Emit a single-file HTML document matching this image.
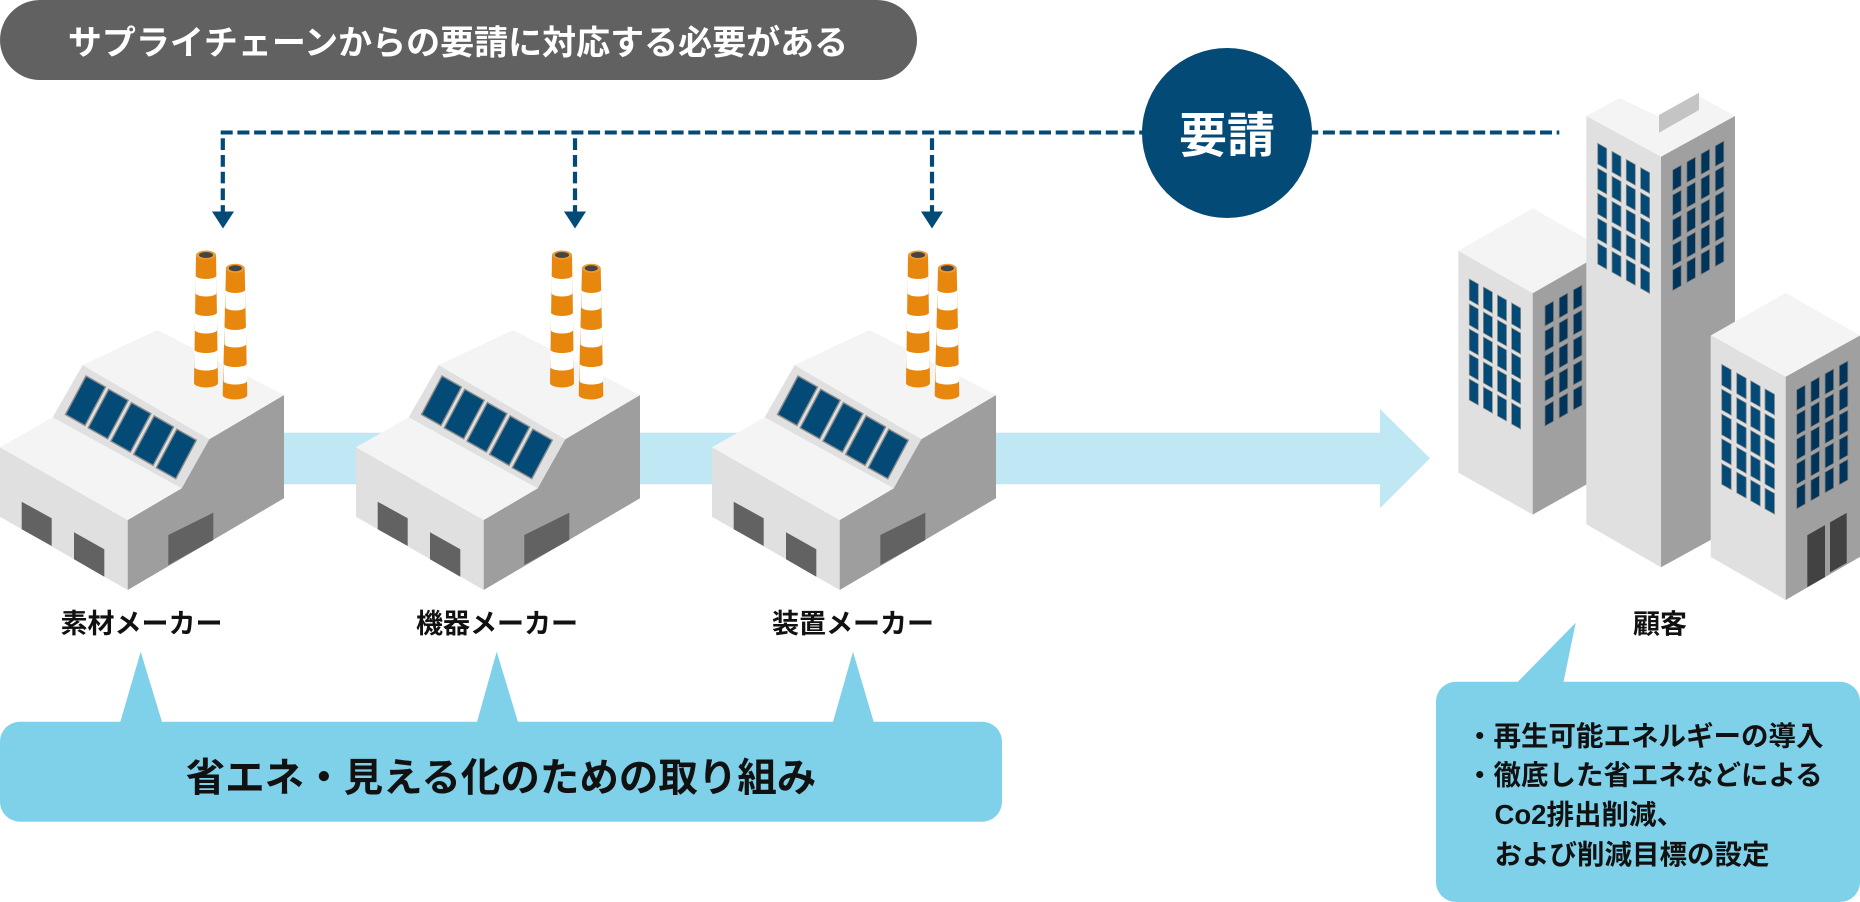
<!DOCTYPE html>
<html><head><meta charset="utf-8">
<style>
html,body{margin:0;padding:0;background:#fff;width:1860px;height:902px;overflow:hidden}
svg{display:block}
text{font-family:"Liberation Sans","Noto Sans CJK JP",sans-serif;font-weight:700}
</style></head>
<body>
<svg width="1860" height="902" viewBox="0 0 1860 902" xmlns="http://www.w3.org/2000/svg">
<rect width="1860" height="902" fill="#fff"/>

<!-- header pill -->
<rect x="0" y="0" width="917" height="80" rx="40" fill="#616161"/>
<text x="458" y="54.5" font-size="34" fill="#fff" text-anchor="middle">サプライチェーンからの要請に対応する必要がある</text>

<!-- dashed request lines -->
<line x1="220.7" y1="132.5" x2="1559.3" y2="132.5" stroke="#034a77" stroke-width="4" stroke-dasharray="12 4.7"/>
<g stroke="#034a77" stroke-width="4.2" stroke-dasharray="11.7 5">
<line x1="222.8" y1="138.3" x2="222.8" y2="212"/>
<line x1="575" y1="138.3" x2="575" y2="212"/>
<line x1="932" y1="138.3" x2="932" y2="212"/>
</g>
<g fill="#034a77">
<polygon points="212,211.5 234,211.5 223,228.5"/>
<polygon points="564,211.5 586,211.5 575,228.5"/>
<polygon points="921,211.5 943,211.5 932,228.5"/>
</g>
<circle cx="1227" cy="133" r="85" fill="#034a77"/>
<text x="1227" y="152" font-size="48" fill="#fff" text-anchor="middle">要請</text>

<!-- light blue flow arrow -->
<polygon points="150,432.7 1380,432.7 1380,409 1430,458.3 1380,508.3 1380,484.3 150,484.3" fill="#bfe8f4"/>

<!-- factory -->
<g id="fac">
<polygon points="0,447.3 127.7,520 127.7,590 0,516.7" fill="#e0e0e0"/>
<polygon points="127.7,520 181.7,488.3 209.3,439.3 284,395 284,498.3 127.7,590" fill="#9e9e9e"/>
<polygon points="0,447.3 52.7,417.3 181.7,488.3 127.7,520" fill="#f4f4f4"/>
<polygon points="52.7,417.3 82.7,365 209.3,439.3 181.7,488.3" fill="#e0e0e0"/>
<polygon points="82.7,365 157.3,330 284,395 209.3,439.3" fill="#f4f4f4"/>
<g fill="#034a77" stroke="#8c8c8c" stroke-width="1.4">
<polygon points="86,376 105.5,387 85,425.5 65.5,414.5"/>
<polygon points="108.7,389.3 128.2,400.3 107.7,438.8 88.2,427.8"/>
<polygon points="131.4,402.6 150.9,413.6 130.4,452.1 110.9,441.1"/>
<polygon points="154.1,415.9 173.6,426.9 153.1,465.4 133.6,454.4"/>
<polygon points="176.8,429.2 196.3,440.2 175.8,478.7 156.3,467.7"/>
</g>
<g fill="#626262">
<polygon points="21.7,501.7 51.7,518.3 51.7,546 21.7,529.3"/>
<polygon points="74,532.3 104.3,549.3 104.3,576.7 74,559.3"/>
<polygon points="168.3,535 213.3,512.7 213.3,540 168.3,565"/>
</g>
<!-- chimney 1 -->
<path d="M196,255 L194,383 A12,4.5 0 0 0 218,383 L216,255 Z" fill="#e8870e"/>
<g fill="#fff">
<path d="M195.6,275.5 A10.4,3.5 0 0 0 216.4,275.5 L216.4,293 A10.4,3.5 0 0 1 195.6,293 Z"/>
<path d="M195,312.5 A11,3.5 0 0 0 217,312.5 L217,330 A11,3.5 0 0 1 195,330 Z"/>
<path d="M194.4,349.5 A11.6,3.5 0 0 0 217.6,349.5 L217.6,367 A11.6,3.5 0 0 1 194.4,367 Z"/>
</g>
<ellipse cx="206" cy="255" rx="10" ry="4.5" fill="#ee9a30"/>
<ellipse cx="206" cy="255" rx="7" ry="3" fill="#444"/>
<!-- chimney 2 -->
<path d="M226,268.3 L222.7,395 A12.3,4.5 0 0 0 247.3,395 L244.7,268.3 Z" fill="#e8870e"/>
<g fill="#fff">
<path d="M225.4,289.5 A9.95,3.5 0 0 0 245.3,289.5 L245.3,307 A9.95,3.5 0 0 1 225.4,307 Z"/>
<path d="M224.5,326.5 A10.8,3.5 0 0 0 246.1,326.5 L246.1,344 A10.8,3.5 0 0 1 224.5,344 Z"/>
<path d="M223.6,363.5 A11.7,3.5 0 0 0 247,363.5 L247,381 A11.7,3.5 0 0 1 223.6,381 Z"/>
</g>
<ellipse cx="235.3" cy="268.3" rx="9.4" ry="4.5" fill="#ee9a30"/>
<ellipse cx="235.3" cy="268.3" rx="6.5" ry="3" fill="#444"/>
</g>
<use href="#fac" x="356" y="0"/>
<use href="#fac" x="712" y="0"/>

<!-- factory labels -->
<g font-size="27" fill="#111" text-anchor="middle">
<text x="141.5" y="633">素材メーカー</text>
<text x="497" y="633">機器メーカー</text>
<text x="853" y="633">装置メーカー</text>
<text x="1660" y="633.5">顧客</text>
</g>

<!-- buildings: B1 -->
<polygon points="1458.3,250.7 1532.7,208.3 1607,250.7 1532.7,293.3" fill="#f4f4f4"/>
<polygon points="1458.3,250.7 1532.7,293.3 1532.7,514.6 1458.3,472.6" fill="#e0e0e0"/>
<polygon points="1532.7,293.3 1607,250.7 1607,473 1532.7,514.6" fill="#a0a0a0"/>
<g transform="translate(1469.3,279) skewY(29.5)" fill="#034a77" stroke="#8a8a8a" stroke-width="0.8">
<rect x="0" y="0" width="9" height="21"/><rect x="14.1" y="0" width="9" height="21"/><rect x="28.2" y="0" width="9" height="21"/><rect x="42.3" y="0" width="9" height="21"/>
<rect x="0" y="25" width="9" height="21"/><rect x="14.1" y="25" width="9" height="21"/><rect x="28.2" y="25" width="9" height="21"/><rect x="42.3" y="25" width="9" height="21"/>
<rect x="0" y="50" width="9" height="21"/><rect x="14.1" y="50" width="9" height="21"/><rect x="28.2" y="50" width="9" height="21"/><rect x="42.3" y="50" width="9" height="21"/>
<rect x="0" y="75" width="9" height="21"/><rect x="14.1" y="75" width="9" height="21"/><rect x="28.2" y="75" width="9" height="21"/><rect x="42.3" y="75" width="9" height="21"/>
<rect x="0" y="100" width="9" height="21"/><rect x="14.1" y="100" width="9" height="21"/><rect x="28.2" y="100" width="9" height="21"/><rect x="42.3" y="100" width="9" height="21"/>
</g>
<g transform="translate(1545,306) skewY(-29.5)" fill="#00345a" stroke="#7a7a7a" stroke-width="0.8">
<rect x="0" y="0" width="8.5" height="20"/><rect x="14.2" y="0" width="8.5" height="20"/><rect x="28.4" y="0" width="8.5" height="20"/>
<rect x="0" y="25" width="8.5" height="20"/><rect x="14.2" y="25" width="8.5" height="20"/><rect x="28.4" y="25" width="8.5" height="20"/>
<rect x="0" y="50" width="8.5" height="20"/><rect x="14.2" y="50" width="8.5" height="20"/><rect x="28.4" y="50" width="8.5" height="20"/>
<rect x="0" y="75" width="8.5" height="20"/><rect x="14.2" y="75" width="8.5" height="20"/><rect x="28.4" y="75" width="8.5" height="20"/>
<rect x="0" y="100" width="8.5" height="20"/><rect x="14.2" y="100" width="8.5" height="20"/><rect x="28.4" y="100" width="8.5" height="20"/>
</g>

<!-- tower -->
<polygon points="1586.3,116 1661,75.3 1735,116 1661,156.7" fill="#f4f4f4"/>
<polygon points="1619.3,98 1661,75.3 1699,94 1659,116.7" fill="#fff"/>
<polygon points="1659,115 1699,92.7 1699,110 1659,132.7" fill="#c4c4c4"/>
<polygon points="1586.3,116 1661,156.7 1661,567.3 1586.3,524.2" fill="#e0e0e0"/>
<polygon points="1661,156.7 1735,116 1735,526.6 1661,567.3" fill="#a0a0a0"/>
<g transform="translate(1597.7,143.3) skewY(29.5)" fill="#034a77" stroke="#8a8a8a" stroke-width="0.8">
<rect x="0" y="0" width="9" height="20.7"/><rect x="14.3" y="0" width="9" height="20.7"/><rect x="28.6" y="0" width="9" height="20.7"/><rect x="42.9" y="0" width="9" height="20.7"/>
<rect x="0" y="25" width="9" height="20.7"/><rect x="14.3" y="25" width="9" height="20.7"/><rect x="28.6" y="25" width="9" height="20.7"/><rect x="42.9" y="25" width="9" height="20.7"/>
<rect x="0" y="50" width="9" height="20.7"/><rect x="14.3" y="50" width="9" height="20.7"/><rect x="28.6" y="50" width="9" height="20.7"/><rect x="42.9" y="50" width="9" height="20.7"/>
<rect x="0" y="75" width="9" height="20.7"/><rect x="14.3" y="75" width="9" height="20.7"/><rect x="28.6" y="75" width="9" height="20.7"/><rect x="42.9" y="75" width="9" height="20.7"/>
<rect x="0" y="100" width="9" height="20.7"/><rect x="14.3" y="100" width="9" height="20.7"/><rect x="28.6" y="100" width="9" height="20.7"/><rect x="42.9" y="100" width="9" height="20.7"/>
</g>
<g transform="translate(1672.7,170) skewY(-29.5)" fill="#00345a" stroke="#7a7a7a" stroke-width="0.8">
<rect x="0" y="0" width="8.5" height="20.5"/><rect x="14.2" y="0" width="8.5" height="20.5"/><rect x="28.4" y="0" width="8.5" height="20.5"/><rect x="42.6" y="0" width="8.5" height="20.5"/>
<rect x="0" y="25" width="8.5" height="20.5"/><rect x="14.2" y="25" width="8.5" height="20.5"/><rect x="28.4" y="25" width="8.5" height="20.5"/><rect x="42.6" y="25" width="8.5" height="20.5"/>
<rect x="0" y="50" width="8.5" height="20.5"/><rect x="14.2" y="50" width="8.5" height="20.5"/><rect x="28.4" y="50" width="8.5" height="20.5"/><rect x="42.6" y="50" width="8.5" height="20.5"/>
<rect x="0" y="75" width="8.5" height="20.5"/><rect x="14.2" y="75" width="8.5" height="20.5"/><rect x="28.4" y="75" width="8.5" height="20.5"/><rect x="42.6" y="75" width="8.5" height="20.5"/>
<rect x="0" y="100" width="8.5" height="20.5"/><rect x="14.2" y="100" width="8.5" height="20.5"/><rect x="28.4" y="100" width="8.5" height="20.5"/><rect x="42.6" y="100" width="8.5" height="20.5"/>
</g>

<!-- B3 -->
<polygon points="1710.7,335.5 1785.7,292.8 1860,335.5 1785.7,376.8" fill="#f4f4f4"/>
<polygon points="1710.7,335.5 1785.7,376.8 1785.7,600 1710.7,556.9" fill="#e0e0e0"/>
<polygon points="1785.7,376.8 1860,335.5 1860,556.9 1785.7,600" fill="#a0a0a0"/>
<g transform="translate(1721.7,364.4) skewY(29.5)" fill="#034a77" stroke="#8a8a8a" stroke-width="0.8">
<rect x="0" y="0" width="9.5" height="20.7"/><rect x="15" y="0" width="9.5" height="20.7"/><rect x="29" y="0" width="9.5" height="20.7"/><rect x="43.3" y="0" width="9.5" height="20.7"/>
<rect x="0" y="24.8" width="9.5" height="20.7"/><rect x="15" y="24.8" width="9.5" height="20.7"/><rect x="29" y="24.8" width="9.5" height="20.7"/><rect x="43.3" y="24.8" width="9.5" height="20.7"/>
<rect x="0" y="49.6" width="9.5" height="20.7"/><rect x="15" y="49.6" width="9.5" height="20.7"/><rect x="29" y="49.6" width="9.5" height="20.7"/><rect x="43.3" y="49.6" width="9.5" height="20.7"/>
<rect x="0" y="74.4" width="9.5" height="20.7"/><rect x="15" y="74.4" width="9.5" height="20.7"/><rect x="29" y="74.4" width="9.5" height="20.7"/><rect x="43.3" y="74.4" width="9.5" height="20.7"/>
<rect x="0" y="99.2" width="9.5" height="20.7"/><rect x="15" y="99.2" width="9.5" height="20.7"/><rect x="29" y="99.2" width="9.5" height="20.7"/><rect x="43.3" y="99.2" width="9.5" height="20.7"/>
</g>
<g transform="translate(1796.7,389.9) skewY(-29.5)" fill="#00345a" stroke="#7a7a7a" stroke-width="0.8">
<rect x="0" y="0" width="8.5" height="20.5"/><rect x="14.2" y="0" width="8.5" height="20.5"/><rect x="28.4" y="0" width="8.5" height="20.5"/><rect x="42.6" y="0" width="8.5" height="20.5"/>
<rect x="0" y="24.6" width="8.5" height="20.5"/><rect x="14.2" y="24.6" width="8.5" height="20.5"/><rect x="28.4" y="24.6" width="8.5" height="20.5"/><rect x="42.6" y="24.6" width="8.5" height="20.5"/>
<rect x="0" y="49.2" width="8.5" height="20.5"/><rect x="14.2" y="49.2" width="8.5" height="20.5"/><rect x="28.4" y="49.2" width="8.5" height="20.5"/><rect x="42.6" y="49.2" width="8.5" height="20.5"/>
<rect x="0" y="73.8" width="8.5" height="20.5"/><rect x="14.2" y="73.8" width="8.5" height="20.5"/><rect x="28.4" y="73.8" width="8.5" height="20.5"/><rect x="42.6" y="73.8" width="8.5" height="20.5"/>
<rect x="0" y="98.4" width="8.5" height="20.5"/><rect x="14.2" y="98.4" width="8.5" height="20.5"/><rect x="28.4" y="98.4" width="8.5" height="20.5"/><rect x="42.6" y="98.4" width="8.5" height="20.5"/>
</g>
<g transform="translate(1807.3,535.2) skewY(-29.5)" fill="#424242">
<rect x="0" y="0" width="17.7" height="52"/>
<rect x="22.7" y="0" width="16.7" height="50"/>
</g>

<!-- bottom callout -->
<g fill="#7fd0e9">
<rect x="0" y="721.7" width="1002" height="100" rx="20"/>
<polygon points="120,723 140.7,651.7 162.3,723"/>
<polygon points="476.7,723 496.7,651.7 518.3,723"/>
<polygon points="832.7,723 853,651.7 874,723"/>
</g>
<text x="501" y="791.5" font-size="39.5" fill="#111" text-anchor="middle">省エネ・見える化のための取り組み</text>

<!-- right callout -->
<g fill="#7fd0e9">
<rect x="1436" y="681.7" width="424" height="220.3" rx="20"/>
<polygon points="1516.7,683 1575.7,622.7 1563.3,683"/>
</g>
<g font-size="27.5" fill="#111">
<text x="1466" y="745.5">・再生可能エネルギーの導入</text>
<text x="1466" y="784.5">・徹底した省エネなどによる</text>
<text x="1494.5" y="824">Co2排出削減、</text>
<text x="1494.5" y="864">および削減目標の設定</text>
</g>
</svg>
</body></html>
